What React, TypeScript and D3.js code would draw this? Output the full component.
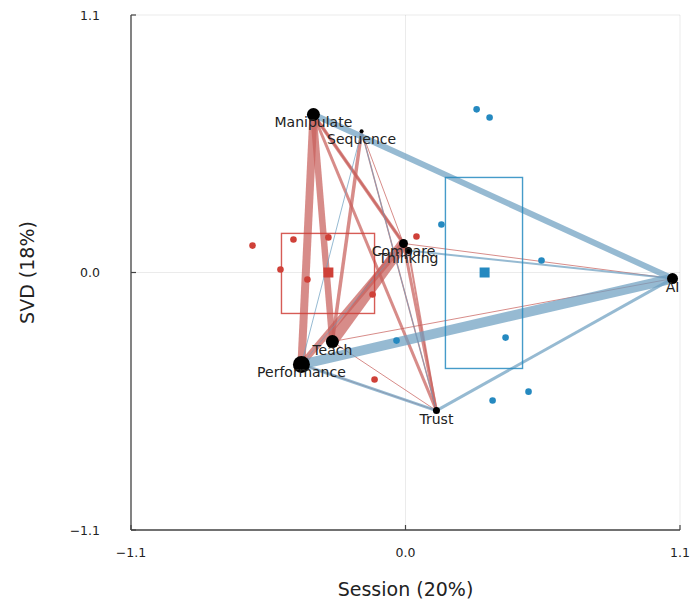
import * as d3 from "d3";
import React from "react";

// node positions (session x SVD)
const nodeNames = ["Manipulate", "Sequence", "Compare", "Thinking", "Teach", "Performance", "Trust", "AI"];
const nodeX = [-0.369, -0.176, -0.008, 0.012, -0.293, -0.417, 0.124, 1.07];
const nodeY = [0.675, 0.603, 0.124, 0.094, -0.295, -0.393, -0.59, -0.026];
const nodeSize = [6.5, 2, 4.5, 3.5, 6.5, 8.5, 3.5, 5.5];

// edges: from, to, weight, group (0 = red, 1 = blue)
const edgeFrom = ["Manipulate", "Manipulate", "Teach", "Performance", "Manipulate", "Manipulate", "Manipulate", "Sequence", "Sequence", "Sequence", "Compare", "Thinking", "Teach", "Teach", "Compare", "Performance",
  "Performance", "Manipulate", "Trust", "Performance", "Thinking", "Sequence", "Sequence", "Compare"];
const edgeTo = ["Performance", "Teach", "Compare", "Compare", "Compare", "Thinking", "Trust", "Teach", "Trust", "Compare", "Trust", "Trust", "Trust", "AI", "AI", "Trust",
  "AI", "AI", "AI", "Trust", "AI", "Performance", "Trust", "Performance"];
const edgeWeight = [8, 6.5, 11, 6, 3.5, 2, 3, 3.5, 1.5, 1, 3, 2, 1, 1, 1, 1,
  10, 6, 3, 3, 2, 1, 1, 0.8];
const edgeGroup = [0, 0, 0, 0, 0, 0, 0, 0, 0, 0, 0, 0, 0, 0, 0, 0,
  1, 1, 1, 1, 1, 1, 1, 1];

// individual session points
const redX = [-0.613, -0.449, -0.309, -0.501, -0.393, -0.132, 0.044, -0.124];
const redY = [0.115, 0.141, 0.15, 0.013, -0.03, -0.094, 0.154, -0.457];
const blueX = [0.144, 0.545, 0.401, -0.036, 0.493, 0.349, 0.285, 0.337];
const blueY = [0.205, 0.051, -0.278, -0.291, -0.509, -0.547, 0.697, 0.662];

// group means and boxes
const groupMeanX = [-0.309, 0.317];
const groupMeanY = [0.0, 0.0];
const groupBoxX0 = [-0.497, 0.16];
const groupBoxX1 = [-0.124, 0.469];
const groupBoxY0 = [-0.175, -0.41];
const groupBoxY1 = [0.167, 0.406];

const ticks = [-1.1, 0.0, 1.1];

const W = 692, H = 602;
const left = 131, right = 680, top = 15, bottom = 530;
const font = "DejaVu Sans, sans-serif";
const pointColors = ["#cf4038", "#2589c0"];
const edgeColors = ["#c85f5c", "#6d9fc0"];

const fmt = (v: number) => (v < 0 ? "\u2212" : "") + Math.abs(v).toFixed(1);

export default function App() {
  const x = d3.scaleLinear().domain([-1.1, 1.1]).range([left, right]);
  const y = d3.scaleLinear().domain([-1.1, 1.1]).range([bottom, top]);
  const idx = (n: string) => nodeNames.indexOf(n);

  const groups = [
    { px: redX, py: redY },
    { px: blueX, py: blueY },
  ];

  return (
    <svg width={W} height={H} style={{ position: "absolute", left: 0, top: 0, background: "#fff" }} fontFamily={font}>
      {/* grid */}
      {ticks.map((t) => (
        <g key={"g" + t}>
          <line x1={x(t)} x2={x(t)} y1={top} y2={bottom} stroke="#000" strokeOpacity={0.08} />
          <line x1={left} x2={right} y1={y(t)} y2={y(t)} stroke="#000" strokeOpacity={0.08} />
        </g>
      ))}

      {/* axes */}
      <line x1={left} x2={right} y1={bottom} y2={bottom} stroke="#444" strokeWidth={1.3} />
      <line x1={left} x2={left} y1={top} y2={bottom} stroke="#444" strokeWidth={1.3} />
      {ticks.map((t) => (
        <g key={"t" + t}>
          <line x1={x(t)} x2={x(t)} y1={bottom} y2={bottom - 5} stroke="#444" strokeWidth={1.2} />
          <text x={x(t)} y={bottom + 27} textAnchor="middle" fontSize={12.5} fill="#222">{fmt(t)}</text>
          <line x1={left} x2={left + 5} y1={y(t)} y2={y(t)} stroke="#444" strokeWidth={1.2} />
          <text x={left - 31} y={y(t) + 4.5} textAnchor="end" fontSize={12.5} fill="#222">{fmt(t)}</text>
        </g>
      ))}
      <text x={x(0)} y={596} textAnchor="middle" fontSize={19} fill="#222">Session (20%)</text>
      <text transform={`translate(34,${y(0)}) rotate(-90)`} textAnchor="middle" fontSize={19} fill="#222">SVD (18%)</text>

      {/* edges */}
      {edgeFrom.map((f, i) => {
        const a = idx(f), b = idx(edgeTo[i]);
        return (
          <line key={"e" + i} x1={x(nodeX[a])} y1={y(nodeY[a])} x2={x(nodeX[b])} y2={y(nodeY[b])}
            stroke={edgeColors[edgeGroup[i]]} strokeWidth={edgeWeight[i]} strokeOpacity={0.72} />
        );
      })}

      {/* group boxes, means and points */}
      {groups.map((g, gi) => (
        <g key={"grp" + gi}>
          <rect x={x(groupBoxX0[gi])} y={y(groupBoxY1[gi])} width={x(groupBoxX1[gi]) - x(groupBoxX0[gi])}
            height={y(groupBoxY0[gi]) - y(groupBoxY1[gi])} fill="none" stroke={pointColors[gi]} strokeOpacity={0.85} strokeWidth={1.4} />
          <rect x={x(groupMeanX[gi]) - 5} y={y(groupMeanY[gi]) - 5} width={10} height={10} fill={pointColors[gi]} />
          {g.px.map((v, i) => (
            <circle key={i} cx={x(v)} cy={y(g.py[i])} r={3.3} fill={pointColors[gi]} />
          ))}
        </g>
      ))}

      {/* nodes */}
      {nodeNames.map((n, i) => (
        <circle key={"n" + n} cx={x(nodeX[i])} cy={y(nodeY[i])} r={nodeSize[i]} fill="#000" />
      ))}
      {nodeNames.map((n, i) => (
        <text key={"l" + n} x={x(nodeX[i])} y={y(nodeY[i]) + 13} textAnchor="middle" fontSize={14} fill="#222">{n}</text>
      ))}
    </svg>
  );
}
